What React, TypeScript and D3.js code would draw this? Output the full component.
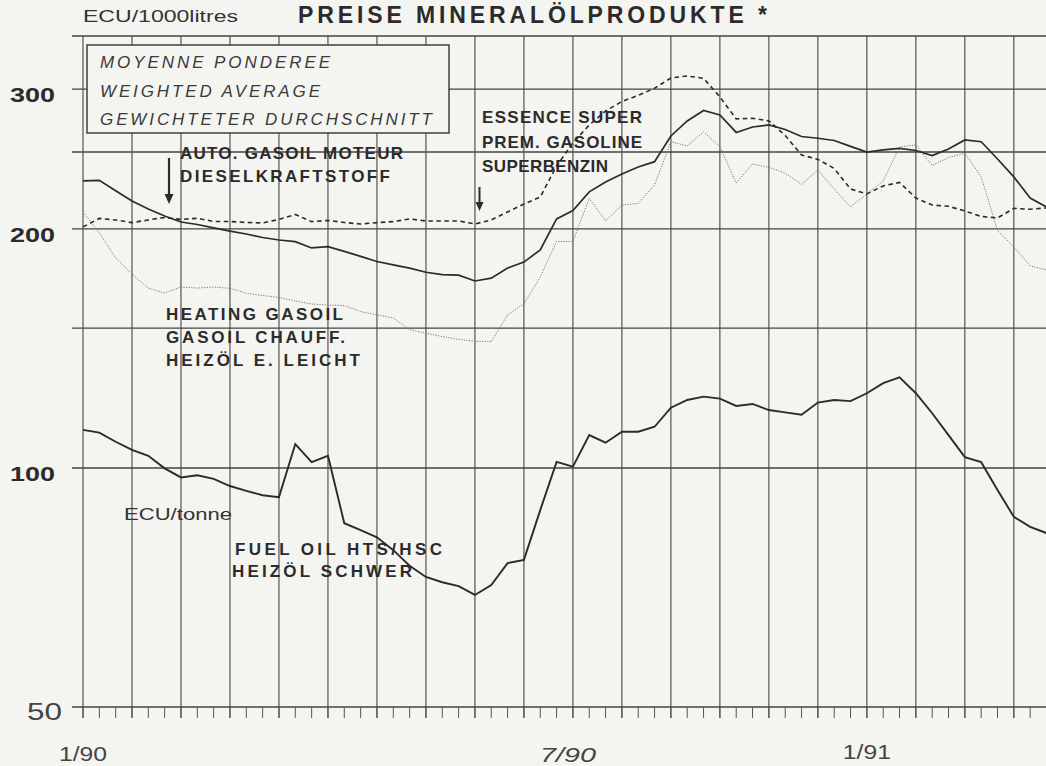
import React from "react";
import * as d3 from "d3";

// weekly points, 1/90 .. 2/91
const dieselValues = [
  230.0, 230.3, 223.5, 216.9, 211.9, 207.7, 204.1, 202.6, 200.6, 198.8,
  197.1, 195.1, 193.7, 192.8, 189.3, 190.0, 187.4, 184.7, 182.0, 180.2,
  178.5, 176.4, 175.2, 174.9, 172.0, 173.4, 178.6, 181.7, 188.2, 205.9,
  211.0, 222.7, 229.2, 234.6, 239.4, 243.1, 261.9, 273.6, 282.0, 278.4,
  264.6, 268.8, 270.4, 266.9, 261.5, 260.2, 258.5, 254.1, 250.0, 251.5,
  252.7, 251.1, 247.5, 252.2, 258.9, 257.6, 245.0, 232.6, 218.8, 213.2,
];
const gasolineValues = [
  201.2, 206.2, 205.3, 203.7, 205.3, 206.8, 205.6, 206.3, 204.4, 204.4,
  203.8, 203.5, 205.6, 208.6, 204.3, 205.0, 203.8, 202.9, 203.7, 204.3,
  205.9, 204.7, 204.7, 204.7, 202.9, 205.3, 210.1, 215.0, 219.4, 240.1,
  256.7, 270.4, 281.6, 289.5, 294.6, 300.8, 309.9, 311.7, 309.6, 293.3,
  275.2, 275.7, 273.6, 262.3, 247.9, 244.7, 238.4, 224.6, 221.4, 226.6,
  228.9, 218.8, 214.4, 213.6, 210.7, 207.4, 206.5, 212.3, 211.8, 212.6,
];
const heatingValues = [
  210.1, 197.7, 183.9, 175.5, 168.5, 166.1, 169.0, 168.5, 169.0, 168.4,
  166.0, 164.9, 164.0, 162.3, 160.9, 160.4, 160.2, 157.4, 155.9, 154.5,
  149.4, 147.8, 146.4, 145.2, 144.4, 144.3, 155.9, 160.9, 174.0, 192.9,
  192.8, 218.5, 204.7, 214.4, 215.4, 227.2, 257.6, 254.4, 265.0, 253.9,
  228.5, 241.5, 239.1, 235.1, 227.6, 237.3, 224.6, 213.2, 221.4, 229.9,
  253.7, 255.2, 240.4, 246.1, 249.1, 232.7, 199.1, 189.8, 179.7, 177.6,
];
const fuelOilValues = [
  111.7, 110.8, 107.9, 105.4, 103.6, 99.9, 97.3, 97.9, 96.9, 94.9,
  93.6, 92.4, 91.9, 107.2, 101.7, 103.6, 85.2, 83.5, 81.8, 78.8,
  75.3, 72.9, 71.8, 71.0, 69.2, 71.2, 75.9, 76.6, 88.5, 101.8,
  100.4, 110.0, 107.6, 111.1, 111.1, 112.7, 119.1, 121.8, 123.0, 122.3,
  119.7, 120.4, 118.3, 117.5, 116.7, 120.9, 121.8, 121.4, 124.2, 127.9,
  130.1, 124.2, 117.2, 110.0, 103.2, 101.7, 93.8, 86.8, 84.3, 82.8,
];

const gridValues = [50, 100, 150, 200, 250, 300, 350];
const yTickLabels = ["50", "100", "200", "300"];
const dateLabels = ["1/90", "7/90", "1/91"];
const datePositions = [0, 29.7, 48];

const W = 1046;
const H = 766;
const ink = "#2b2b2b";
const font = "'Liberation Sans', Arial, sans-serif";

export default function App() {
  const n = dieselValues.length;
  const x = d3.scaleLinear().domain([0, n - 1]).range([83, 1046.5]);
  const y = d3.scaleLog().domain([50, 350]).range([707, 36]);
  const line = d3
    .line<number>()
    .x((d, i) => x(i))
    .y((d) => y(d));

  const ticks = d3.range(0, n + 1);
  const grid = ticks.filter((t) => t % 3 === 0);

  return (
    <svg
      width={W}
      height={H}
      style={{ position: "absolute", left: 0, top: 0, background: "#f4f4f1" }}
      fontFamily={font}
    >
      {/* horizontal grid */}
      {gridValues.map((v) => (
        <line key={"h" + v} x1={72} x2={W} y1={y(v)} y2={y(v)} stroke="#444" strokeWidth={1.3} />
      ))}
      {/* vertical grid and weekly ticks */}
      {grid.map((t) => (
        <line key={"g" + t} x1={x(t)} x2={x(t)} y1={y(350)} y2={y(50) + 11} stroke="#444" strokeWidth={1.1} />
      ))}
      {ticks.map((t) => (
        <line key={"t" + t} x1={x(t)} x2={x(t)} y1={y(50)} y2={y(50) + 11} stroke="#555" strokeWidth={1} />
      ))}

      {/* series */}
      <path d={line(heatingValues) || ""} fill="none" stroke="#777" strokeWidth={1} strokeDasharray="1.2 1.4" />
      <path d={line(gasolineValues) || ""} fill="none" stroke={ink} strokeWidth={1.6} strokeDasharray="4.5 3.5" />
      <path d={line(dieselValues) || ""} fill="none" stroke={ink} strokeWidth={1.7} />
      <path d={line(fuelOilValues) || ""} fill="none" stroke={ink} strokeWidth={1.9} />

      {/* y labels */}
      {yTickLabels.map((s) => (
        <text
          key={s}
          x={s === "50" ? 62 : 55}
          y={y(+s) + 13}
          textAnchor="end"
          fontSize={s === "50" ? 24 : 21}
          fontWeight={s === "50" ? 400 : 700}
          fill={s === "50" ? "#444" : ink}
          textLength={s === "50" ? 35 : 45}
          lengthAdjust="spacingAndGlyphs"
        >
          {s}
        </text>
      ))}

      {/* x labels */}
      {dateLabels.map((s, i) => (
        <text
          key={s}
          x={x(datePositions[i])}
          y={i === 1 ? 762 : i === 0 ? 761 : 759}
          textAnchor="middle"
          fontSize={20}
          fill="#444"
          fontStyle={i === 1 ? "italic" : "normal"}
          textLength={i === 1 ? 56 : 48}
          lengthAdjust="spacingAndGlyphs"
        >
          {s}
        </text>
      ))}

      {/* header */}
      <text x={83} y={22} fontSize={16} fill="#333" textLength={155} lengthAdjust="spacingAndGlyphs">
        ECU/1000litres
      </text>
      <text x={298} y={23} fontSize={23} fontWeight={700} fill={ink} textLength={469} lengthAdjust="spacing">
        PREISE MINERALÖLPRODUKTE *
      </text>

      {/* weighted average box */}
      <rect x={87} y={45} width={362} height={88} fill="#f4f4f1" stroke="#333" strokeWidth={1.4} />
      <g fontStyle="italic" fontSize={17} fill="#3a3a3a">
        <text x={100} y={68} textLength={230} lengthAdjust="spacing">MOYENNE PONDEREE</text>
        <text x={100} y={97} textLength={220} lengthAdjust="spacing">WEIGHTED AVERAGE</text>
        <text x={100} y={125} textLength={332} lengthAdjust="spacing">GEWICHTETER DURCHSCHNITT</text>
      </g>

      {/* series labels */}
      <g fontWeight={700} fontSize={17} fill={ink}>
        <text x={180} y={159} textLength={223} lengthAdjust="spacing">AUTO. GASOIL MOTEUR</text>
        <text x={180} y={182} textLength={210} lengthAdjust="spacing">DIESELKRAFTSTOFF</text>
        <text x={482} y={123} textLength={160} lengthAdjust="spacing">ESSENCE SUPER</text>
        <text x={482} y={148} textLength={160} lengthAdjust="spacing">PREM. GASOLINE</text>
        <text x={482} y={172} textLength={126} lengthAdjust="spacing">SUPERBENZIN</text>
        <text x={166} y={320} textLength={177} lengthAdjust="spacing">HEATING GASOIL</text>
        <text x={166} y={343} textLength={179} lengthAdjust="spacing">GASOIL CHAUFF.</text>
        <text x={166} y={366} textLength={194} lengthAdjust="spacing">HEIZÖL E. LEICHT</text>
        <text x={235} y={555} textLength={207} lengthAdjust="spacing">FUEL OIL HTS/HSC</text>
        <text x={232} y={577} textLength={180} lengthAdjust="spacing">HEIZÖL SCHWER</text>
      </g>
      <text x={124} y={520} fontSize={16} fill="#333" textLength={108} lengthAdjust="spacingAndGlyphs">
        ECU/tonne
      </text>

      {/* arrows */}
      <line x1={169} x2={169} y1={158} y2={198} stroke={ink} strokeWidth={2.2} />
      <path d="M164.5,194 L173.5,194 L169,204 Z" fill={ink} />
      <line x1={479.5} x2={479.5} y1={187} y2={205} stroke={ink} strokeWidth={2} />
      <path d="M475.5,202 L483.5,202 L479.5,211 Z" fill={ink} />
    </svg>
  );
}
